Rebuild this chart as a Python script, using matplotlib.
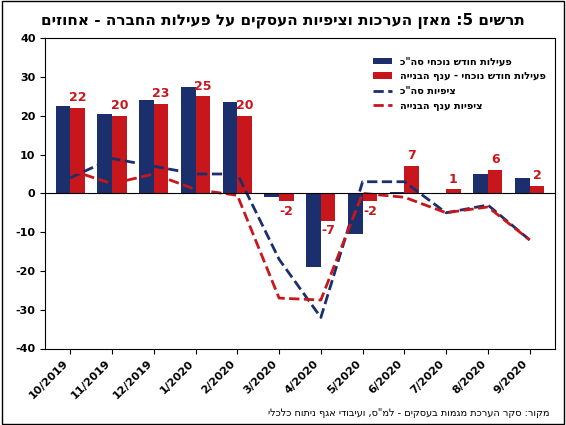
import matplotlib
matplotlib.use("Agg")
import matplotlib.pyplot as plt
import numpy as np
import re
plt.rcParams['axes.unicode_minus'] = False

def rtl(s):
    r = s[::-1]
    return re.sub(r'\d+', lambda m: m.group(0)[::-1], r)

months = ["10/2019","11/2019","12/2019","1/2020","2/2020","3/2020","4/2020","5/2020","6/2020","7/2020","8/2020","9/2020"]
total = [22.5, 20.5, 24, 27.5, 23.5, -1, -19, -10.5, 0.3, 0.2, 5, 4]
constr = [22, 20, 23, 25, 20, -2, -7, -2, 7, 1, 6, 2]
exp_total = [4, 9, 7, 5, 5, -17, -32, 3, 3, -5, -3, -12]
exp_constr = [6, 2.5, 5, 1, -0.5, -27, -27.5, 0, -1, -5, -3.5, -12]

navy = "#1a2f6b"; red = "#c8161d"
fig, ax = plt.subplots(figsize=(5.66, 4.25), dpi=100)
fig.subplots_adjust(left=0.08, right=0.98, top=0.91, bottom=0.18)
x = np.arange(len(months)); w = 0.35
h1 = ax.bar(x - w/2, total, w, color=navy, label=rtl('פעילות חודש נוכחי סה"כ'))
h2 = ax.bar(x + w/2, constr, w, color=red, label=rtl('פעילות חודש נוכחי - ענף הבנייה'))
h3, = ax.plot(x, exp_total, '--', color=navy, lw=2, label=rtl('ציפיות סה"כ'))
h4, = ax.plot(x, exp_constr, '--', color=red, lw=2, label=rtl('ציפיות ענף הבנייה'))
for xi, v in zip(x, constr):
    ax.text(xi + w/2, v + (1 if v >= 0 else -1), str(v), color=red, fontweight='bold',
            ha='center', va='bottom' if v >= 0 else 'top', fontsize=9)
ax.axhline(0, color='black', lw=0.8)
ax.set_ylim(-40, 40); ax.set_yticks(range(-40, 41, 10))
ax.set_xlim(-0.6, len(months) - 0.4)
ax.set_xticks(x); ax.set_xticklabels(months, rotation=45, ha='right', fontweight='bold', fontsize=8)
for t in ax.get_yticklabels(): t.set_fontweight('bold')
ax.tick_params(labelsize=8)
ax.legend(handles=[h1, h2, h3, h4], loc='upper right', bbox_to_anchor=(1.0, 0.97), frameon=False, prop={'weight':'bold','size':7})
fig.suptitle(rtl('תרשים 5: מאזן הערכות וציפיות העסקים על פעילות החברה - אחוזים'), fontweight='bold', fontsize=11, y=0.97)
fig.text(0.97, 0.02, rtl('מקור: סקר הערכת מגמות בעסקים - למ"ס, ועיבודי אגף ניתוח כלכלי'), ha='right', fontsize=7)
fig.patches.append(plt.Rectangle((0.003, 0.003), 0.994, 0.994, transform=fig.transFigure, fill=False, ec='black', lw=1))
fig.savefig("out.png", dpi=100)
